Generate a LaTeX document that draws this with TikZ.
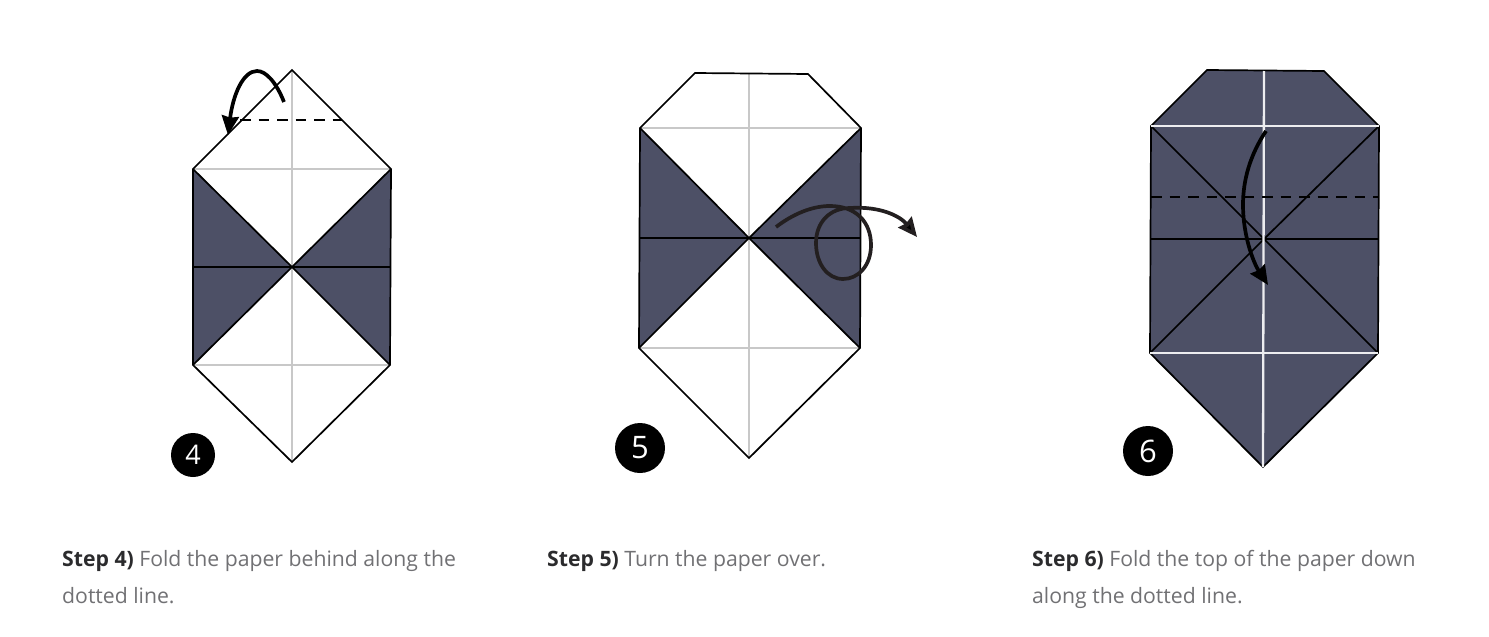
\documentclass[tikz,border=0pt]{standalone}
\usepackage{fontspec}
\setmainfont{Open Sans}
\usetikzlibrary{arrows.meta}
\definecolor{paperdark}{HTML}{4D5066}
\definecolor{foldgrey}{HTML}{C8C8C8}
\definecolor{capgrey}{HTML}{717174}
\definecolor{capdark}{HTML}{2B2B2D}
\definecolor{arrowink}{HTML}{231F20}
\tikzset{
  edge/.style={draw=black,line width=1.7pt,line join=miter},
  crease/.style={draw=foldgrey,line width=2.3pt},
  whitecrease/.style={draw=white!90!paperdark,line width=2.3pt},
  foldline/.style={draw=black,line width=1.6pt,dash pattern=on 10.5pt off 8pt},
  foldarrow/.style={draw=black,line width=3.7pt,-{Stealth[length=19pt,width=17pt,inset=1.5pt]}},
  badge/.style={circle,fill=black,text=white,inner sep=0pt},
  caption/.style={anchor=base west,inner sep=0pt,text=capgrey,font=\fontsize{21.2pt}{24pt}\selectfont},
}
\newcommand{\stepword}[1]{\textbf{\textcolor{capdark}{#1}}}
\begin{document}
\begin{tikzpicture}[x=1pt,y=-1pt]
\useasboundingbox (0,0) rectangle (1489,637);
\fill[white] (0,0) rectangle (1489,637);

% ---------- Figure 4
\coordinate (dT) at (292,70);
\coordinate (dL) at (193,169);
\coordinate (dR) at (391,169);
\coordinate (dBL) at (193,365);
\coordinate (dBR) at (390,365);
\coordinate (dC) at (292,267);
\coordinate (dB) at (292,462);
\fill[white] (dT)--(dR)--(dBR)--(dB)--(dBL)--(dL)--cycle;
\fill[paperdark] (dL)--(dC)--(dBL)--cycle;
\fill[paperdark] (dR)--(dC)--(dBR)--cycle;
\draw[crease] (dT)--(dB);
\draw[crease] (dL)--(dR);
\draw[crease] (dBL)--(dBR);
\draw[edge] (dL)--(dC)--(dBR);
\draw[edge] (dR)--(dC)--(dBL);
\draw[edge] (193,267)--(391,267);
\draw[edge] (dL)--(dT)--(dR)--(dBR)--(dB)--(dBL)--cycle;
\draw[foldline] (240,120)--(342,120);
\draw[foldarrow] (284,102) .. controls (276,82) and (266,71) .. (257,71)
  .. controls (243,71) and (233,95) .. (228,135);
\node[badge,minimum size=44pt,font=\fontsize{27pt}{30pt}\selectfont] (b4) at (193,455) {4};

% ---------- Figure 5
\coordinate (eTL) at (695,73);
\coordinate (eTR) at (808,74);
\coordinate (eL) at (640,128);
\coordinate (eR) at (861,128);
\coordinate (eBL) at (639,348);
\coordinate (eBR) at (860,348);
\coordinate (eC) at (749,238);
\coordinate (eB) at (749,458);
\fill[white] (eTL)--(eTR)--(eR)--(eBR)--(eB)--(eBL)--(eL)--cycle;
\fill[paperdark] (eL)--(eC)--(eBL)--cycle;
\fill[paperdark] (eR)--(eC)--(eBR)--cycle;
\draw[crease] (749,74)--(eB);
\draw[crease] (eL)--(eR);
\draw[crease] (eBL)--(eBR);
\draw[edge] (eL)--(eC)--(eBR);
\draw[edge] (eR)--(eC)--(eBL);
\draw[edge] (640,238)--(861,238);
\draw[edge] (eTL)--(eTR)--(eR)--(eBR)--(eB)--(eBL)--(eL)--cycle;
\draw[foldarrow,draw=arrowink,-{Stealth[length=19pt,width=17pt,inset=1.5pt,fill=black]}]
  (776,227) .. controls (793,214) and (812,206) .. (830,206)
  .. controls (856,206) and (871,222) .. (871,245)
  .. controls (871,266) and (858,279) .. (843,279)
  .. controls (827,279) and (816,263) .. (816,243)
  .. controls (816,222) and (830,208) .. (850,208)
  .. controls (880,206) and (900,216) .. (917,237);
\node[badge,minimum size=50pt,font=\fontsize{31pt}{33pt}\selectfont] (b5) at (640,448) {5};

% ---------- Figure 6
\coordinate (fTL) at (1207,70);
\coordinate (fTR) at (1324,71);
\coordinate (fL) at (1151,126);
\coordinate (fR) at (1379,126);
\coordinate (fBL) at (1150,353);
\coordinate (fBR) at (1378,353);
\coordinate (fC) at (1264,239);
\coordinate (fB) at (1263,467);
\fill[paperdark] (fTL)--(fTR)--(fR)--(fBR)--(fB)--(fBL)--(fL)--cycle;
\draw[edge] (fL)--(fC)--(fBR);
\draw[edge] (fR)--(fC)--(fBL);
\draw[edge] (1151,239)--(1379,239);
\draw[edge] (fTL)--(fTR)--(fR)--(fBR)--(fB)--(fBL)--(fL)--cycle;
\draw[whitecrease] (1264,71)--(fB);
\draw[whitecrease] (fL)--(fR);
\draw[whitecrease] (fBL)--(fBR);
\draw[foldline] (1151,197)--(1379,197);
\draw[foldarrow] (1266,131) .. controls (1250,155) and (1243,180) .. (1243,205)
  .. controls (1243,235) and (1253,262) .. (1268,285);
\node[badge,minimum size=50pt,font=\fontsize{31pt}{33pt}\selectfont] (b6) at (1148,451) {6};

% ---------- Captions
\node[caption] (c4a) at (62,566.3) {\stepword{Step 4)} Fold the paper behind along the};
\node[caption] (c4b) at (62,603.3) {dotted line.};
\node[caption] (c5a) at (547,566.3) {\stepword{Step 5)} Turn the paper over.};
\node[caption] (c6a) at (1032,566.3) {\stepword{Step 6)} Fold the top of the paper down};
\node[caption] (c6b) at (1032,603.3) {along the dotted line.};
\end{tikzpicture}
\end{document}
